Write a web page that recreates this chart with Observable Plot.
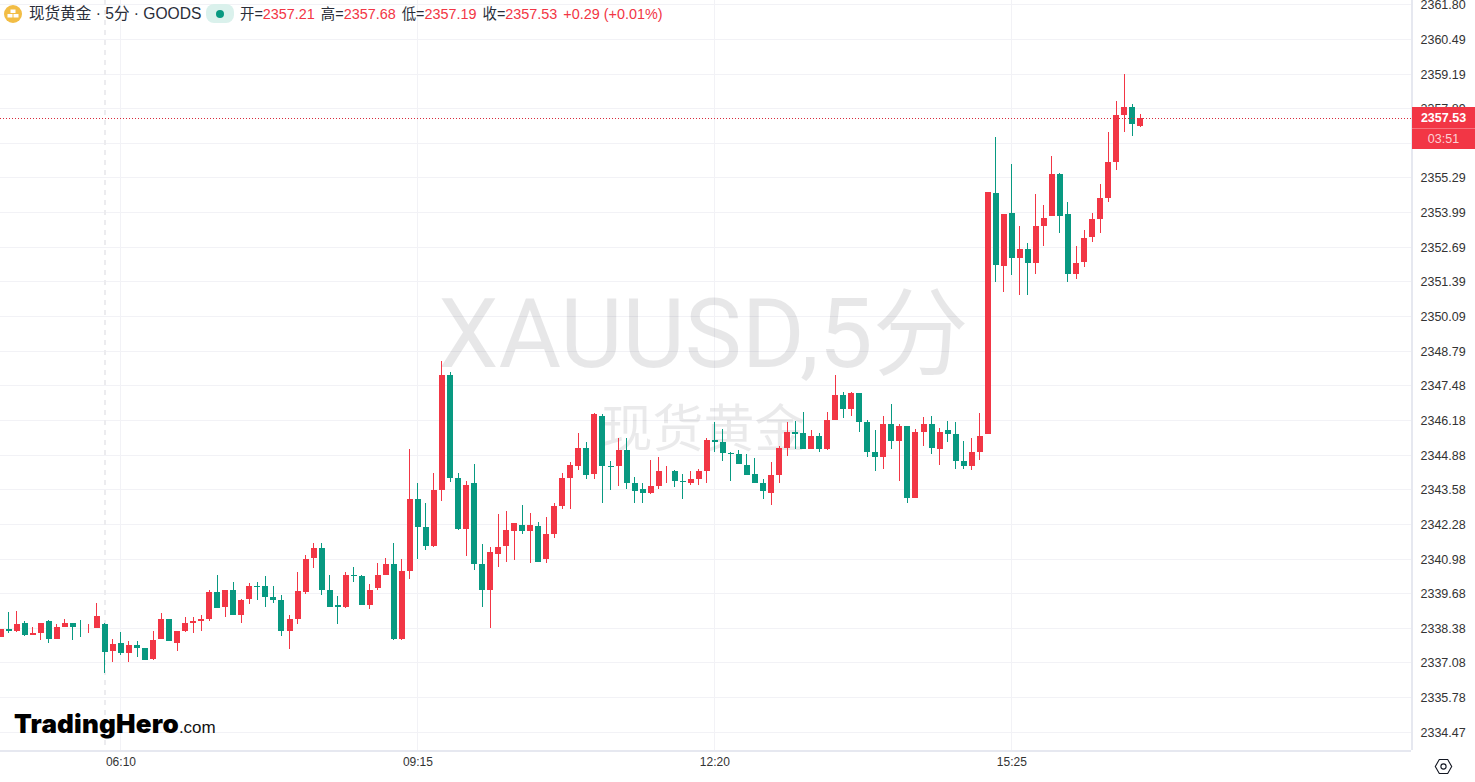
<!DOCTYPE html>
<html>
<head>
<meta charset="utf-8">
<script src="https://cdn.jsdelivr.net/npm/d3@7"></script>
<script src="https://cdn.jsdelivr.net/npm/@observablehq/plot@0.6"></script>
<style>
html,body{margin:0;padding:0;background:#fff;width:1475px;height:782px;overflow:hidden}
#chart{position:absolute;left:0;top:0}
.ov{position:absolute;white-space:nowrap;font-family:"Liberation Sans","Noto Sans CJK SC",sans-serif}
</style>
</head>
<body>
<div id="chart"></div>

<div class="ov" style="left:4px;top:5px;width:18px;height:18px;border-radius:9px;background:#f2bd45"></div>
<svg class="ov" style="left:4px;top:5px" width="18" height="18"><rect x="6.5" y="4.5" width="5" height="3.5" fill="#fff"/><rect x="3.5" y="9" width="5" height="3.5" fill="#fff"/><rect x="9.5" y="9" width="5" height="3.5" fill="#fff"/></svg>
<div class="ov" style="left:29px;top:5px;font-size:15.6px;line-height:18px;color:#2a2e39">现货黄金 · 5分 · GOODS</div>
<div class="ov" style="left:206px;top:4px;width:28px;height:19px;border-radius:8px;background:#daf1ec"></div>
<div class="ov" style="left:216px;top:9.5px;width:8px;height:8px;border-radius:4px;background:#089981"></div>
<div class="ov" style="left:240px;top:5px;font-size:14.4px;line-height:18px;color:#2a2e39">开=<span style="color:#f23645">2357.21</span><span style="display:inline-block;width:6px"></span>高=<span style="color:#f23645">2357.68</span><span style="display:inline-block;width:6px"></span>低=<span style="color:#f23645">2357.19</span><span style="display:inline-block;width:6px"></span>收=<span style="color:#f23645">2357.53</span><span style="display:inline-block;width:6px"></span><span style="color:#f23645">+0.29 (+0.01%)</span></div>

<div class="ov" style="left:1412px;top:107px;width:63px;height:42px;background:#f23645"></div>
<div class="ov" style="left:1412px;top:128px;width:63px;height:1px;background:#f7707c"></div>
<div class="ov" style="left:1412px;top:109px;width:63px;text-align:center;font-size:12.5px;line-height:18px;color:#fff;font-weight:700">2357.53</div>
<div class="ov" style="left:1412px;top:130px;width:63px;text-align:center;font-size:12.5px;line-height:18px;color:#fcd0d4">03:51</div>

<div class="ov" style="left:14px;top:705px;font-family:Inter,sans-serif;font-weight:900;font-size:26px;line-height:38px;letter-spacing:0.2px;color:#000">TradingHero<span style="font-family:'Liberation Sans',sans-serif;font-weight:400;font-size:17px;letter-spacing:0;color:#111">.com</span></div>

<svg class="ov" style="left:1434px;top:757px" width="19" height="19" fill="none" stroke="#131722" stroke-width="1.1"><path d="M5.3 2.5h8.4l4 7-4 7H5.3l-4-7z"/><circle cx="9.5" cy="9.5" r="2.6"/></svg>

<script>
const highs = [
2338.32,2338.96,2339.00,2338.62,2338.43,2338.58,2338.66,2338.51,2338.73,2338.55,
2338.66,2338.51,2339.30,2338.58,2337.95,2338.21,2337.87,2337.87,2337.61,2338.28,
2338.92,2338.73,2338.28,2338.77,2338.77,2338.88,2339.79,2340.35,2339.82,2340.12,
2339.45,2340.05,2340.09,2340.31,2339.97,2339.60,2338.88,2340.46,2341.10,2341.58,
2341.55,2340.35,2339.56,2340.46,2340.68,2340.38,2340.01,2340.83,2341.02,2341.55,
2340.98,2345.08,2343.80,2343.05,2344.18,2348.38,2347.97,2344.18,2343.91,2344.55,
2341.51,2341.40,2342.64,2342.75,2342.30,2343.01,2342.71,2342.37,2342.56,2343.05,
2344.18,2344.62,2345.71,2345.37,2346.46,2346.39,2344.66,2345.52,2345.52,2344.06,
2343.83,2344.70,2344.81,2344.47,2344.32,2344.17,2344.25,2344.36,2345.52,2346.09,
2345.86,2345.00,2345.04,2344.89,2344.74,2343.98,2344.59,2345.22,2346.12,2346.13,
2346.50,2345.79,2345.68,2346.47,2347.89,2347.25,2347.25,2347.18,2346.17,2345.79,
2346.32,2346.77,2346.05,2345.94,2345.83,2346.28,2346.35,2345.87,2346.13,2346.09,
2345.38,2345.49,2346.43,2354.76,2356.82,2353.93,2355.81,2353.45,2352.81,2354.65,
2354.27,2356.11,2355.44,2354.35,2352.73,2353.33,2353.97,2355.06,2357.01,2358.14,
2359.19,2358.03,2357.68];
const lows = [
2338.02,2338.17,2338.21,2338.06,2338.10,2337.91,2337.83,2337.95,2338.43,2337.91,
2338.02,2338.17,2338.36,2336.67,2337.08,2337.38,2337.08,2337.27,2337.16,2337.16,
2337.95,2337.87,2337.53,2338.21,2338.17,2338.28,2338.62,2339.11,2338.77,2338.85,
2338.58,2339.26,2339.41,2339.18,2339.30,2338.06,2337.57,2338.51,2339.67,2340.61,
2339.60,2339.18,2338.51,2339.11,2340.12,2339.22,2339.07,2339.82,2340.35,2337.94,
2337.94,2340.23,2340.98,2341.32,2341.43,2343.16,2343.87,2342.04,2341.06,2340.57,
2339.15,2338.36,2340.65,2340.87,2340.91,2341.89,2340.83,2340.87,2340.80,2341.77,
2342.86,2342.86,2344.32,2343.98,2343.95,2343.08,2343.57,2343.72,2343.61,2343.08,
2343.05,2343.42,2343.61,2343.80,2343.65,2343.23,2343.76,2343.76,2343.80,2345.00,
2344.66,2343.91,2344.55,2344.10,2343.80,2343.23,2343.01,2343.83,2344.85,2345.08,
2345.11,2345.11,2345.00,2345.04,2346.17,2346.24,2346.35,2345.75,2344.78,2344.25,
2344.33,2345.08,2343.91,2343.05,2343.27,2345.19,2344.89,2344.51,2345.34,2344.33,
2344.33,2344.29,2344.70,2345.64,2351.38,2350.97,2351.61,2350.89,2350.89,2351.68,
2352.73,2353.86,2353.22,2351.38,2351.49,2351.91,2352.88,2353.22,2354.38,2355.55,
2357.01,2356.86,2357.19];
const opens = [
2338.02,2338.32,2338.25,2338.55,2338.13,2338.17,2338.62,2337.98,2338.43,2338.55,
2338.43,2338.40,2338.36,2338.51,2337.50,2337.80,2337.42,2337.72,2337.61,2337.20,
2337.95,2338.73,2337.83,2338.28,2338.58,2338.62,2338.70,2339.71,2339.15,2339.82,
2338.88,2339.45,2339.94,2339.94,2339.52,2339.41,2338.25,2338.70,2339.71,2341.02,
2341.36,2339.82,2339.22,2339.18,2340.35,2340.31,2339.22,2339.86,2340.35,2340.76,
2337.98,2340.53,2343.20,2342.15,2341.47,2343.54,2347.89,2344.02,2342.11,2343.80,
2340.76,2339.82,2341.17,2341.47,2342.00,2342.26,2342.00,2342.22,2340.95,2341.89,
2342.97,2344.02,2344.47,2345.15,2344.17,2346.35,2344.47,2344.47,2345.04,2343.83,
2343.61,2343.46,2343.72,2344.25,2344.28,2343.91,2343.80,2343.98,2344.28,2345.45,
2345.37,2344.96,2344.89,2344.51,2344.17,2343.83,2343.46,2344.13,2345.15,2345.72,
2345.68,2345.11,2345.60,2345.11,2346.20,2347.14,2346.58,2347.18,2346.09,2345.00,
2344.81,2346.02,2345.38,2345.94,2343.27,2345.75,2346.02,2345.11,2345.79,2345.64,
2344.63,2344.44,2345.00,2345.64,2354.72,2351.98,2353.97,2352.25,2352.62,2352.09,
2353.45,2353.86,2355.40,2353.90,2351.68,2352.13,2353.07,2353.71,2354.53,2355.85,
2357.65,2357.95,2357.21];
const closes = [
2338.32,2338.25,2338.51,2338.13,2338.17,2338.58,2337.98,2338.40,2338.55,2338.43,
2338.40,2338.43,2338.81,2337.46,2337.76,2337.42,2337.72,2337.61,2337.16,2337.91,
2338.73,2337.87,2338.28,2338.58,2338.62,2338.70,2339.71,2339.11,2339.82,2338.88,
2339.41,2339.94,2339.90,2339.52,2339.41,2338.25,2338.73,2339.75,2340.98,2341.36,
2339.82,2339.18,2339.18,2340.35,2340.31,2339.22,2339.82,2340.35,2340.76,2337.98,
2340.53,2343.20,2342.15,2341.47,2343.54,2347.89,2344.02,2342.11,2343.76,2340.76,
2339.82,2341.21,2341.43,2342.04,2342.30,2342.00,2342.26,2340.87,2341.89,2342.94,
2344.02,2344.51,2345.15,2344.13,2346.39,2344.47,2344.43,2345.04,2343.83,2343.53,
2343.46,2343.72,2344.28,2344.28,2343.91,2343.85,2343.98,2344.28,2345.45,2345.34,
2344.96,2344.90,2344.55,2344.13,2343.80,2343.50,2344.10,2345.15,2345.75,2345.64,
2345.11,2345.60,2345.11,2346.20,2347.14,2346.58,2347.18,2346.09,2345.00,2344.81,
2346.02,2345.38,2345.94,2343.27,2345.72,2346.02,2345.15,2345.72,2345.64,2344.63,
2344.44,2345.00,2345.60,2354.76,2352.02,2353.93,2352.25,2352.62,2352.09,2353.45,
2353.78,2355.40,2353.86,2351.68,2352.09,2353.03,2353.71,2354.53,2355.85,2357.65,
2357.95,2357.28,2357.53];

const yTicks = [2361.80,2360.49,2359.19,2357.89,2356.59,2355.29,2353.99,2352.69,2351.39,2350.09,2348.79,2347.48,2346.18,2344.88,2343.58,2342.28,2340.98,2339.68,2338.38,2337.08,2335.78,2334.47];
const yLabels = yTicks.filter(v => v !== 2356.59);
const lastPrice = 2357.53;
const t = (h, m, s = 0) => new Date(Date.UTC(2024, 5, 28, h, m, s));
const xTicks = [t(6,10), t(9,15), t(12,20), t(15,25)];
const crosshair = [t(6,0)];
const firstBar = t(4,55);
const upColor = "#f23645", downColor = "#089981";

const bars = opens.map((o, i) => ({
  time: d3.utcMinute.offset(firstBar, 5 * i),
  open: o, high: highs[i], low: lows[i], close: closes[i],
  color: closes[i] >= o ? upColor : downColor
}));
const xDomain = [t(4,54,57), t(19,34,1)];
const yDomain = [2333.795, 2361.95];

const chart = Plot.plot({
  width: 1475, height: 782,
  marginLeft: 0, marginRight: 64, marginTop: 0, marginBottom: 32,
  style: {background: "transparent", fontFamily: "'Liberation Sans', 'Noto Sans CJK SC', sans-serif"},
  x: {type: "utc", domain: xDomain},
  y: {domain: yDomain},
  marks: [
    Plot.ruleY(yTicks, {stroke: "#f2f2f6", strokeWidth: 1, shapeRendering: "crispEdges"}),
    Plot.ruleX(xTicks, {stroke: "#f2f2f6", strokeWidth: 1, shapeRendering: "crispEdges"}),
    Plot.ruleX(crosshair, {stroke: "#ececef", strokeWidth: 2, strokeDasharray: "5,5", shapeRendering: "crispEdges"}),
    Plot.text(["XAUUSD,5分"], {frameAnchor: "top-left", dx: 703, dy: 298, textAnchor: "middle", fontSize: 96, fontWeight: 400, fill: "#131722", fillOpacity: 0.1, fontFamily: "Roboto,'Noto Sans CJK SC',sans-serif"}),
    Plot.text(["现货黄金"], {frameAnchor: "top-left", dx: 703, dy: 410, textAnchor: "middle", fontSize: 51, fontWeight: 400, fill: "#131722", fillOpacity: 0.09, fontFamily: "'Noto Sans CJK SC',sans-serif"}),
    Plot.ruleX(bars, {x: "time", y1: "low", y2: "high", stroke: "color", strokeWidth: 1, shapeRendering: "crispEdges"}),
    Plot.ruleX(bars, {x: "time", y1: "open", y2: "close", stroke: "color", strokeWidth: 6, shapeRendering: "crispEdges"}),
    Plot.ruleY([lastPrice], {stroke: "#d92b3c", strokeWidth: 1, strokeDasharray: "1,2", shapeRendering: "crispEdges"}),
    Plot.ruleY([yDomain[0]], {stroke: "#e6e8f0", strokeWidth: 2, shapeRendering: "crispEdges"}),
    Plot.ruleX([xDomain[1]], {stroke: "#e6e8f0", strokeWidth: 2, shapeRendering: "crispEdges"}),
    Plot.axisY(yLabels, {anchor: "right", tickSize: 0, tickPadding: 9, fontSize: 12.5, fill: "#333", tickFormat: d3.format(".2f"), label: null, dy: 0.5}),
    Plot.axisX(xTicks, {anchor: "bottom", tickSize: 0, tickPadding: 7, fontSize: 12, fill: "#333", tickFormat: d3.utcFormat("%H:%M"), label: null})
  ]
});
document.getElementById("chart").appendChild(chart);
</script>
</body>
</html>
